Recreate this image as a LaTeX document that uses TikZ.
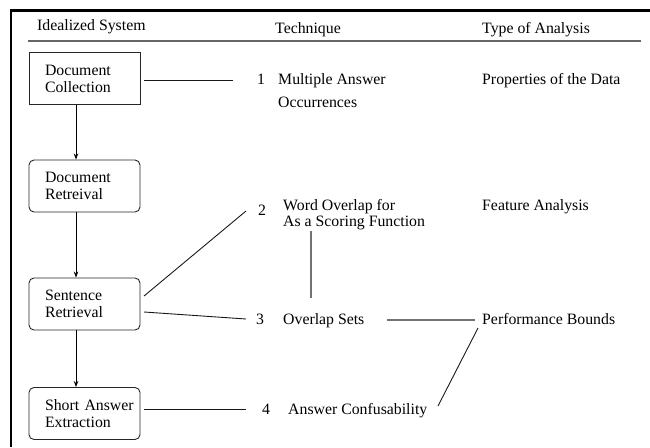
\documentclass[tikz,border=0pt]{standalone}
\usepackage{fontspec}
\setmainfont{Liberation Serif}
\usetikzlibrary{arrows.meta}
\begin{document}
\begin{tikzpicture}[x=1pt,y=-1pt,
  every node/.style={font=\fontsize{15.8}{17}\selectfont, inner sep=0pt},
  lbl/.style={anchor=base west},
  sysbox/.style={draw=black!85, line width=0.9pt, minimum width=111pt, minimum height=52pt,
     text width=79pt, inner xsep=16pt, align=left},
  rbox/.style={sysbox, rounded corners=5pt},
  link/.style={line width=0.9pt, black!90},
  glink/.style={line width=1.6pt, black!55},
  flow/.style={line width=0.9pt, -{Stealth[length=6pt,width=4.5pt]}}]
\useasboundingbox (0,0) rectangle (650,447);
% frame
\draw[line width=3pt] (10,10) -- (650,10);
\draw[line width=2pt] (11,10) -- (11,447);
% headers
\node[lbl] (h1) at (37,30) {Idealized System};
\node[lbl] (h2) at (275,33) {Technique};
\node[lbl] (h3) at (482,33) {Type of Analysis};
\draw[line width=1.4pt, black!60] (28,41) -- (641,41);
% boxes
\node[sysbox] (b1) at (84.5,78.5) {\mbox{Document}\\\mbox{Collection}};
\node[rbox] (b2) at (84.5,186) {\mbox{Document}\\\mbox{Retreival}};
\node[rbox] (b3) at (84.5,304) {\mbox{Sentence}\\\mbox{Retrieval}};
\node[rbox] (b4) at (84.5,413.5) {\mbox{Short Answer}\\\mbox{Extraction}};
\coordinate (ax) at (76,0);
\draw[flow] (b1.south -| ax) -- (b2.north -| ax);
\draw[flow] (b2.south -| ax) -- (b3.north -| ax);
\draw[flow] (b3.south -| ax) -- (b4.north -| ax);
% technique labels
\node[lbl] (n1) at (257,84) {1};
\node[lbl] (t1a) at (278,84) {Multiple Answer};
\node[lbl] (t1b) at (278,107) {Occurrences};
\node[lbl] (a1) at (482,84) {Properties of the Data};
\node[lbl] (n2) at (258,215) {2};
\node[lbl] (t2a) at (283,210) {Word Overlap for};
\node[lbl] (t2b) at (283,226) {As a Scoring Function};
\node[lbl] (a2) at (482,210) {Feature Analysis};
\node[lbl] (n3) at (256,324) {3};
\node[lbl] (t3) at (283,324) {Overlap Sets};
\node[lbl] (a3) at (482,324) {Performance Bounds};
\node[lbl] (n4) at (262,414) {4};
\node[lbl] (t4) at (288,414) {Answer Confusability};
% connector end points
\coordinate (c1s) at (144,80);  \coordinate (c1e) at (233,80);
\coordinate (c2s) at (144,296); \coordinate (c2e) at (246,211);
\coordinate (c3s) at (144,312); \coordinate (c3e) at (246,319);
\coordinate (c4s) at (144,409); \coordinate (c4e) at (246,409);
\coordinate (v1) at (311,231);  \coordinate (v2) at (311,298);
\coordinate (g1) at (387,320);  \coordinate (g2) at (475,320);
\coordinate (d1) at (478,328);  \coordinate (d2) at (438,406);
\draw[link] (c1s) -- (c1e);
\draw[link] (c2s) -- (c2e);
\draw[link] (c3s) -- (c3e);
\draw[link] (c4s) -- (c4e);
\draw[glink] (v1) -- (v2);
\draw[glink] (g1) -- (g2);
\draw[link] (d1) -- (d2);
\end{tikzpicture}
\end{document}
